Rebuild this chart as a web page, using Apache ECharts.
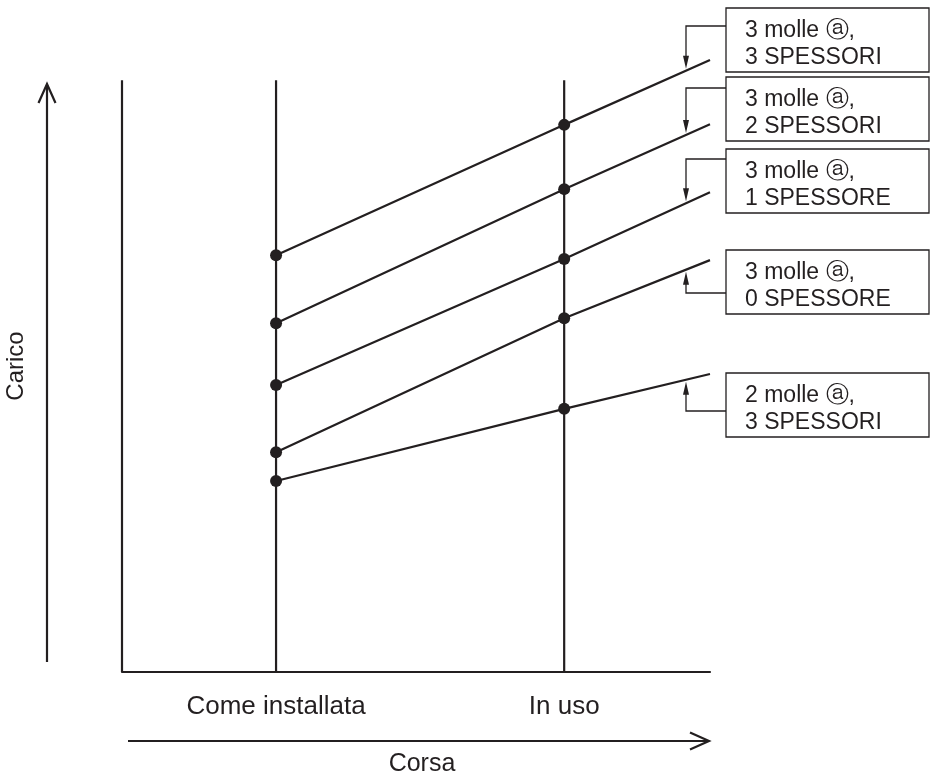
<!DOCTYPE html>
<html>
<head>
<meta charset="utf-8">
<script src="https://cdn.jsdelivr.net/npm/echarts@6/dist/echarts.min.js"></script>
<style>html,body{margin:0;padding:0;background:#fff}#c{width:930px;height:783px}</style>
</head>
<body>
<div id="c"></div>
<script>
// ---- data ----
const xTickLabels = ['Come installata', 'In uso'];
const xStroke = [2.62, 7.52, 10];          // installata, in uso, line end
const lineTop = 9.67;                       // top of the vertical reference lines
const seriesNames = [
  '3 molle ⓐ,\n3 SPESSORI',
  '3 molle ⓐ,\n2 SPESSORI',
  '3 molle ⓐ,\n1 SPESSORE',
  '3 molle ⓐ,\n0 SPESSORE',
  '2 molle ⓐ,\n3 SPESSORI'
];
const s1 = [6.81, 8.94, 10.00];
const s2 = [5.70, 7.89, 8.95];
const s3 = [4.69, 6.75, 7.84];
const s4 = [3.59, 5.78, 6.73];
const s5 = [3.12, 4.30, 4.87];
const seriesValues = [s1, s2, s3, s4, s5];

// ---- layout (annotation boxes) ----
const COLOR = '#231f20';
const FONT = '"Liberation Sans", Arial, "DejaVu Sans", sans-serif';
const boxTops = [8, 77, 149, 250, 373];
const leaderYs = [26, 88, 159, 293, 411];
const arrowDown = [true, true, true, false, false];

const chart = echarts.init(document.getElementById('c'), null, {renderer: 'canvas'});

const series = [];
seriesValues.forEach((vals, i) => {
  series.push({
    name: seriesNames[i],
    type: 'line',
    symbol: 'circle',
    symbolSize: 12,
    showSymbol: true,
    itemStyle: {color: COLOR},
    lineStyle: {color: COLOR, width: 2.2},
    silent: true,
    z: 5,
    data: vals.map((v, k) => k === vals.length - 1
      ? {value: [xStroke[k], v], symbol: 'none'}
      : [xStroke[k], v])
  });
});
// y axis line and vertical reference lines
[0, xStroke[0], xStroke[1]].forEach(x => {
  series.push({
    type: 'line', symbol: 'none', silent: true, z: 3,
    lineStyle: {color: COLOR, width: 2.2},
    data: [[x, 0], [x, lineTop]]
  });
});

chart.setOption({
  animation: false,
  backgroundColor: '#fff',
  grid: {left: 122, right: 220, top: 60, bottom: 111},
  xAxis: {
    type: 'value', min: 0, max: 10,
    axisLine: {show: true, onZero: false, lineStyle: {color: COLOR, width: 2.2}},
    axisTick: {show: false},
    splitLine: {show: false},
    axisLabel: {
      customValues: [xStroke[0], xStroke[1]],
      formatter: v => xTickLabels[xStroke.indexOf(v)] || '',
      color: COLOR, fontSize: 26, fontFamily: FONT, margin: 22
    }
  },
  yAxis: {
    type: 'value', min: 0, max: 10,
    axisLine: {show: false}, axisTick: {show: false},
    axisLabel: {show: false}, splitLine: {show: false}
  },
  series: series
});

// ---- annotations ----
const g = [];
// axis arrows & titles
g.push({type: 'polyline', shape: {points: [[47, 662], [47, 85]]}, style: {stroke: COLOR, lineWidth: 2.2, fill: null}});
g.push({type: 'polyline', shape: {points: [[38.5, 103], [47, 84], [55.5, 103]]}, style: {stroke: COLOR, lineWidth: 2.2, fill: null}});
g.push({type: 'polyline', shape: {points: [[128, 741], [708, 741]]}, style: {stroke: COLOR, lineWidth: 2.2, fill: null}});
g.push({type: 'polyline', shape: {points: [[690, 732.5], [709, 741], [690, 749.5]]}, style: {stroke: COLOR, lineWidth: 2.2, fill: null}});
g.push({type: 'text', x: 16, y: 366, rotation: Math.PI / 2,
  style: {text: 'Carico', fontSize: 24, fontFamily: FONT, fill: COLOR, align: 'center', verticalAlign: 'middle'}});
g.push({type: 'text', x: 422, y: 764,
  style: {text: 'Corsa', fontSize: 25, fontFamily: FONT, fill: COLOR, align: 'center', verticalAlign: 'middle'}});

seriesValues.forEach((vals, i) => {
  const p2 = chart.convertToPixel({gridIndex: 0}, [xStroke[1], vals[1]]);
  const p3 = chart.convertToPixel({gridIndex: 0}, [xStroke[2], vals[2]]);
  const lx = p3[0] - 24;
  const ly = p2[1] + (p3[1] - p2[1]) * (lx - p2[0]) / (p3[0] - p2[0]);
  const boxX = p3[0] + 16;
  const top = boxTops[i];
  const yl = leaderYs[i];
  const tip = arrowDown[i] ? ly - 2 : ly + 2;
  const dir = arrowDown[i] ? 1 : -1;
  g.push({type: 'polyline', shape: {points: [[boxX, yl], [lx, yl], [lx, tip - dir * 10]]},
    style: {stroke: COLOR, lineWidth: 1.3, fill: null}});
  g.push({type: 'polygon', shape: {points: [[lx - 3, tip - dir * 13], [lx + 3, tip - dir * 13], [lx, tip]]},
    style: {fill: COLOR, stroke: null}});
  g.push({type: 'rect', shape: {x: boxX, y: top, width: 929 - boxX, height: 64},
    style: {fill: '#fff', stroke: COLOR, lineWidth: 1.3}});
  g.push({type: 'text', x: boxX + 19, y: top + 36,
    style: {text: seriesNames[i], fontSize: 23, lineHeight: 27, fontFamily: FONT, fill: COLOR, align: 'left', verticalAlign: 'middle'}});
});

chart.setOption({graphic: g});
</script>
</body>
</html>
